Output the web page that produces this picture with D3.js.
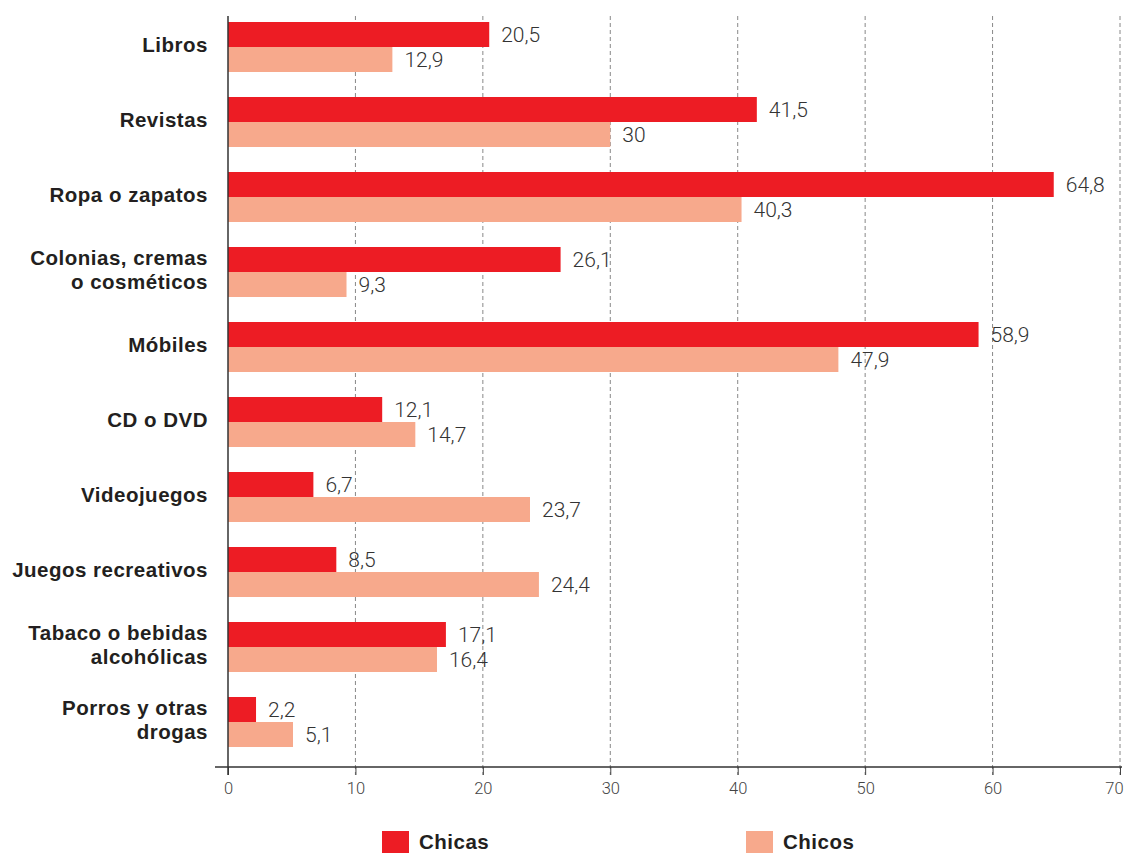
<!DOCTYPE html>
<html><head><meta charset="utf-8">
<script src="https://cdn.jsdelivr.net/npm/d3@7"></script>
<style>body{margin:0;background:#fff}svg{display:block}</style>
</head><body>
<script>
const categories = [["Libros"],["Revistas"],["Ropa o zapatos"],["Colonias, cremas","o cosméticos"],["Móbiles"],["CD o DVD"],["Videojuegos"],["Juegos recreativos"],["Tabaco o bebidas","alcohólicas"],["Porros y otras","drogas"]];
const chicas = [20.5,41.5,64.8,26.1,58.9,12.1,6.7,8.5,17.1,2.2];
const chicos = [12.9,30,40.3,9.3,47.9,14.7,23.7,24.4,16.4,5.1];
const seriesNames = ["Chicas","Chicos"];
const colors = ["#ed1c24","#f7a98c"];
const xTicks = [0,10,20,30,40,50,60,70];

const W=1126,H=853;
const svg=d3.select("body").append("svg").attr("width",W).attr("height",H);
const x=d3.scaleLinear().domain([0,70]).range([228,1120]);
const keys=categories.map((c,i)=>i);
const y=d3.scaleBand().domain(keys).range([9.5,759.5]).paddingInner(1/3).paddingOuter(1/6);
const ySub=d3.scaleBand().domain([0,1]).range([0,y.bandwidth()]);
const axisY=767;
const boldFont="Liberation Sans, Arial, sans-serif";
const lightFont="Roboto, Liberation Sans, sans-serif";

// gridlines
svg.append("g").selectAll("line").data(xTicks.filter(t=>t>0)).join("line")
 .attr("x1",d=>x(d)).attr("x2",d=>x(d)).attr("y1",16).attr("y2",775)
 .attr("stroke","#888").attr("stroke-width",1).attr("stroke-dasharray","4,3");

// bars
const data=[chicas,chicos];
data.forEach((arr,s)=>{
  svg.append("g").selectAll("rect").data(arr).join("rect")
   .attr("x",x(0)).attr("y",(d,i)=>y(i)+ySub(s))
   .attr("width",d=>x(d)-x(0)).attr("height",ySub.bandwidth())
   .attr("fill",colors[s]);
  svg.append("g").selectAll("text").data(arr).join("text")
   .attr("x",d=>x(d)+12).attr("y",(d,i)=>y(i)+ySub(s)+ySub.bandwidth()/2+1.5)
   .attr("dominant-baseline","middle")
   .attr("font-family",lightFont).attr("font-weight",300).attr("font-size",21)
   .attr("fill","#333")
   .text(d=>String(d).replace(".",","));
});

// category labels
const cg=svg.append("g");
categories.forEach((lines,i)=>{
  const cy=y(i)+y.bandwidth()/2;
  const t=cg.append("text").attr("text-anchor","end")
   .attr("font-family",boldFont).attr("font-weight","bold")
   .attr("font-size",20.5).attr("letter-spacing","0.5px").attr("fill","#231f20");
  const n=lines.length, lh=24;
  lines.forEach((l,j)=>{
    t.append("tspan").attr("x",208).attr("y",cy+(j-(n-1)/2)*lh).attr("dominant-baseline","middle").text(l);
  });
});

// x axis
const xa=svg.append("g").attr("transform",`translate(0,${axisY})`)
 .call(d3.axisBottom(x).tickValues(xTicks).tickSize(8).tickPadding(7).tickFormat(d=>d));
xa.select(".domain").remove();
xa.selectAll(".tick line").attr("stroke","#444");
xa.selectAll(".tick text").attr("font-family",lightFont).attr("font-weight",300).attr("font-size",16.5).attr("fill","#444")
 .attr("dx",d=>d===70?-6:0);
svg.append("line").attr("x1",215).attr("x2",1122).attr("y1",axisY).attr("y2",axisY).attr("stroke","#333").attr("stroke-width",1.5);
svg.append("line").attr("x1",228).attr("x2",228).attr("y1",16).attr("y2",axisY+8).attr("stroke","#333").attr("stroke-width",1.5);

// legend
const legX=[382,746];
seriesNames.forEach((n,i)=>{
  svg.append("rect").attr("x",legX[i]).attr("y",831).attr("width",27).attr("height",22).attr("fill",colors[i]);
  svg.append("text").attr("x",legX[i]+37).attr("y",844).attr("dominant-baseline","middle")
   .attr("font-family",boldFont).attr("font-weight","bold").attr("font-size",20.5).attr("letter-spacing","0.5px")
   .attr("fill","#231f20").text(n);
});
</script>
</body></html>
